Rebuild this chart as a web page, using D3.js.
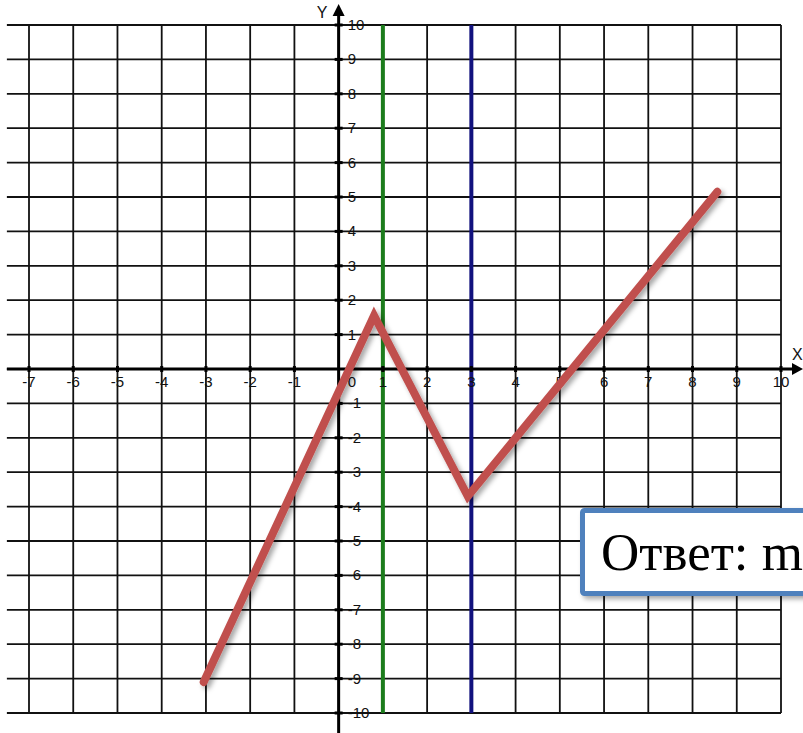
<!DOCTYPE html>
<html>
<head>
<meta charset="utf-8">
<script src="https://cdn.jsdelivr.net/npm/d3@7"></script>
<style>
  html, body { margin: 0; padding: 0; background: #fff; }
  svg { display: block; }
</style>
</head>
<body>
<div id="chart-container"></div>
<script>
// Подписи делений
const xTickValues = [-7, -6, -5, -4, -3, -2, -1, 1, 2, 3, 4, 5, 6, 7, 8, 9, 10];
const yTickValues = [-10, -9, -8, -7, -6, -5, -4, -3, -2, -1, 1, 2, 3, 4, 5, 6, 7, 8, 9, 10];
// Ломаная (график функции)
const brokenX = [-3.05, 0.8, 2.92, 8.56];
const brokenY = [-9.1, 1.55, -3.7, 5.15];
// Вертикальные прямые x = 1 и x = 3
const verticalX = [1, 3];
const answerText = "Ответ: m";

const width = 803;
const height = 733;

const svg = d3.select("#chart-container")
    .append("svg")
    .attr("width", width)
    .attr("height", height)
    .style("font-family", "Arial, sans-serif");

// Шкалы
const x = d3.scaleLinear().domain([-7, 10]).range([29, 781]);
const y = d3.scaleLinear().domain([-10, 10]).range([713, 25]);

const defs = svg.append("defs");
const shadow = defs.append("filter").attr("id", "shadow")
    .attr("x", "-20%").attr("y", "-20%").attr("width", "140%").attr("height", "140%");
shadow.append("feDropShadow")
    .attr("dx", 3).attr("dy", 3).attr("stdDeviation", 2.5)
    .attr("flood-color", "#000").attr("flood-opacity", 0.35);

// Сетка
const gridX = d3.range(-7, 11);
const gridY = d3.range(-10, 11);
svg.append("g").selectAll("line")
    .data(gridX)
    .enter().append("line")
    .attr("x1", d => x(d)).attr("x2", d => x(d))
    .attr("y1", y(10)).attr("y2", y(-10))
    .attr("stroke", "#111").attr("stroke-width", 1.8);
svg.append("g").selectAll("line")
    .data(gridY)
    .enter().append("line")
    .attr("x1", x(-7.5)).attr("x2", x(10))
    .attr("y1", d => y(d)).attr("y2", d => y(d))
    .attr("stroke", "#111").attr("stroke-width", 1.8);

// Прямые x = 1 и x = 3
const vColors = ["#1c7c1c", "#12127e"];
svg.append("g").selectAll("line")
    .data(verticalX)
    .enter().append("line")
    .attr("x1", d => x(d)).attr("x2", d => x(d))
    .attr("y1", y(10)).attr("y2", y(-10))
    .attr("stroke", (d, i) => vColors[i]).attr("stroke-width", 4);

// Оси
const axes = svg.append("g");
axes.append("line")
    .attr("x1", x(-7.5)).attr("x2", 796)
    .attr("y1", y(0)).attr("y2", y(0))
    .attr("stroke", "#000").attr("stroke-width", 3);
axes.append("path")
    .attr("d", `M803,${y(0)} L792,${y(0) - 6} L792,${y(0) + 6} Z`)
    .attr("fill", "#000");
axes.append("line")
    .attr("x1", x(0)).attr("x2", x(0))
    .attr("y1", 14).attr("y2", height)
    .attr("stroke", "#000").attr("stroke-width", 3);
axes.append("path")
    .attr("d", `M${x(0)},4 L${x(0) - 6},16 L${x(0) + 6},16 Z`)
    .attr("fill", "#000");

// Засечки
axes.selectAll(".xt")
    .data(xTickValues)
    .enter().append("line")
    .attr("x1", d => x(d)).attr("x2", d => x(d))
    .attr("y1", y(0) - 3).attr("y2", y(0) + 3)
    .attr("stroke", "#000").attr("stroke-width", 3);
axes.selectAll(".yt")
    .data(yTickValues)
    .enter().append("line")
    .attr("x1", x(0) - 4).attr("x2", x(0) + 4)
    .attr("y1", d => y(d)).attr("y2", d => y(d))
    .attr("stroke", "#000").attr("stroke-width", 3);

// Подписи осей
const labels = svg.append("g")
    .style("font-size", "15px")
    .style("fill", "#111");
labels.selectAll(".xl")
    .data(xTickValues)
    .enter().append("text")
    .attr("x", d => x(d))
    .attr("y", y(0) + 18)
    .attr("text-anchor", "middle")
    .text(d => d);
labels.selectAll(".yl")
    .data(yTickValues)
    .enter().append("text")
    .attr("x", x(0) + 9)
    .attr("y", d => y(d) + 5)
    .text(d => d);
labels.append("text")
    .attr("x", x(0) + 9)
    .attr("y", y(0) + 18)
    .text("0");
labels.append("text")
    .attr("x", x(0) - 22)
    .attr("y", 18)
    .style("font-size", "16px")
    .text("Y");
labels.append("text")
    .attr("x", 792)
    .attr("y", y(0) - 9)
    .style("font-size", "16px")
    .text("X");

// Ломаная
const line = d3.line()
    .x(d => x(d[0]))
    .y(d => y(d[1]));
svg.append("path")
    .datum(brokenX.map((v, i) => [v, brokenY[i]]))
    .attr("d", line)
    .attr("fill", "none")
    .attr("stroke", "#c0504d")
    .attr("stroke-width", 8)
    .attr("stroke-linecap", "round")
    .attr("stroke-linejoin", "miter")
    .attr("filter", "url(#shadow)");

// Рамка с ответом
const box = svg.append("g");
box.append("rect")
    .attr("x", 582.5).attr("y", 510.5)
    .attr("width", 260).attr("height", 83)
    .attr("rx", 2)
    .attr("fill", "#fff")
    .attr("stroke", "#4f81bd")
    .attr("stroke-width", 5)
    .attr("filter", "url(#shadow)");
box.append("text")
    .attr("x", 601)
    .attr("y", 570)
    .style("font-family", "'Liberation Serif', 'Times New Roman', serif")
    .style("font-size", "53px")
    .style("fill", "#000")
    .text(answerText);
</script>
</body>
</html>
